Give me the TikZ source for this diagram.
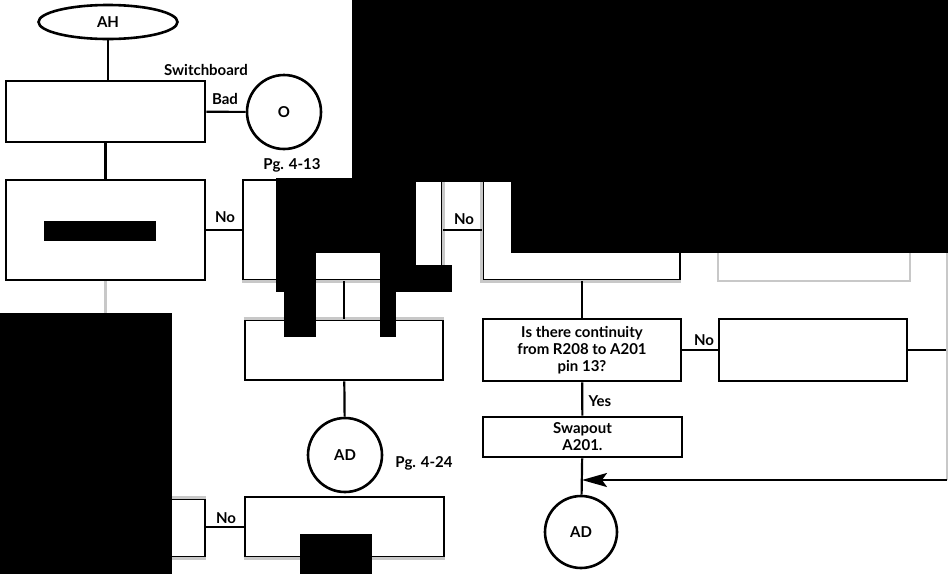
\documentclass[tikz,border=0pt]{standalone}
\usepackage{fontspec}
\setsansfont{Lato}
\usetikzlibrary{arrows.meta,positioning,calc,shapes.geometric}
\definecolor{scanGray}{RGB}{200,200,200}
\tikzset{
	fbox/.style={
		draw=black,
		line width=2.6pt,
		rectangle,
		inner sep=0pt,
		align=center,
		font=\sffamily\bfseries\fontsize{15}{17}\selectfont
	},
	fcirc/.style={draw=black, line width=2.6pt, circle, inner sep=0pt, minimum size=74pt,
		font=\sffamily\bfseries\fontsize{15}{17}\selectfont},
	flbl/.style={inner sep=0pt, font=\sffamily\bfseries\fontsize{15}{17}\selectfont},
	fline/.style={line width=2.2pt},
	gline/.style={line width=2.6pt, scanGray},
	blot/.style={fill=black, draw=none},
	farr/.style={line width=2.2pt, -{Stealth[length=25pt,width=14pt,inset=5pt]}}
}

\begin{document}
\begin{tikzpicture}[x=1pt, y=-1pt]
		\useasboundingbox (0,0) rectangle (948,574);
		% left column
		\node[draw, ellipse, line width=2.6pt, minimum width=139pt, minimum height=34pt, flbl] (ah) at (108,22) {AH};
		\node[fbox, minimum width=199pt, minimum height=61pt] (sw) at (105.5,111.5) {};
		\node[fcirc] (o) at (284,112) {O};
		\node[fbox, minimum width=199pt, minimum height=100pt] (b2) at (105.5,230) {};
		\node[fbox, minimum width=199pt, minimum height=58pt] (b9) at (105.5,528) {};
		% middle column
		\node[fbox, minimum width=199pt, minimum height=100pt] (b3) at (342.5,230) {};
		\node[fbox, minimum width=198pt, minimum height=60pt] (b4) at (344,350) {};
		\node[fcirc] (adl) at (345,455) {AD};
		\node[fbox, minimum width=199pt, minimum height=60pt] (b10) at (344.5,527) {};
		% right part
		\node[fbox, minimum width=197pt, minimum height=100pt] (b5) at (581.5,230) {};
		\node[fbox, draw=scanGray, minimum width=192pt, minimum height=100pt] (b6) at (814,231) {};
		\node[fbox, minimum width=198pt, minimum height=62pt] (q) at (582,350) {Is there continuity\\from R208 to A201\\pin 13?};
		\node[fbox, minimum width=188pt, minimum height=62pt] (b7) at (813,350) {};
		\node[fbox, minimum width=199pt, minimum height=40pt] (swap) at (582.5,437) {Swapout\\A201.};
		\node[fcirc, minimum size=72pt] (adr) at (581,532) {AD};
		\coordinate (rs) at (947,480);
		\coordinate (mg) at (582,480);
		% scan-faded edges
		\draw[gline] (b3.north east) -- (b3.south east) -- (b3.south west);
		\draw[gline] (b5.north west) -- (b5.south west) -- (b5.south east);
		\draw[gline] (b4.north west) -- (b4.north east);
		\draw[gline] (b9.north west) -- (b9.north east);
		\draw[gline] (b9.south west) -- (b9.south east);
		\draw[gline] (b10.south west) -- (b10.south east);
		% labels
		\node[flbl] (lsw) at (206,70) {Switchboard};
		\node[flbl] (lbad) at (225,99) {Bad};
		\node[flbl] (lno1) at (225,217) {No};
		\node[flbl] (lpg1) at (292,165) {Pg. 4-13};
		\node[flbl] (lno2) at (464,219) {No};
		\node[flbl] (lno3) at (226,518) {No};
		\node[flbl] (lno4) at (704,340) {No};
		\node[flbl] (lyes) at (600,401) {Yes};
		\node[flbl] (lpg2) at (424,463) {Pg. 4-24};
		% connectors
		\draw[fline] (ah.south) -- (ah.south |- sw.north);
		\draw[fline] (sw) -- (o);
		\draw[fline] (sw) -- (b2);
		\draw[fline, scanGray] (b2.south) -- ++(0,35);
		\draw[fline] (b2) -- (b3);
		\draw[fline] (b3) -- (b5);
		\draw[fline] (b4.north) -- (b4.north |- b3.south);
		\draw[fline] (b4) -- (adl);
		\draw[fline] (b9.east |- b10.west) -- (b10.west);
		\draw[fline] (q.north) -- (q.north |- b5.south);
		\draw[fline] (q) -- (b7);
		\draw[fline] (q) -- (swap);
		\draw[fline] (swap) -- (adr);
		\draw[fline] (b7.east) -- (b7.east -| rs);
		\draw[line width=1.5pt, scanGray] (947,253) -- (rs);
		\draw[farr] (rs) -- (mg);
		% blacked-out parts
		\fill[blot] (352,0) rectangle (948,182);
		\fill[blot] (276,178) rectangle (416,253);
		\fill[blot] (511,182) rectangle (948,253);
		\fill[blot] (276,253) rectangle (316,292);
		\fill[blot] (284,292) rectangle (316,337);
		\fill[blot] (380,253) rectangle (416,265);
		\fill[blot] (380,265) rectangle (452,292);
		\fill[blot] (380,292) rectangle (396,337);
		\fill[blot] (44,221) rectangle (156,241);
		\fill[blot] (0,313) rectangle (172,574);
		\fill[blot] (300,534) rectangle (372,574);
	\end{tikzpicture}
\end{document}
